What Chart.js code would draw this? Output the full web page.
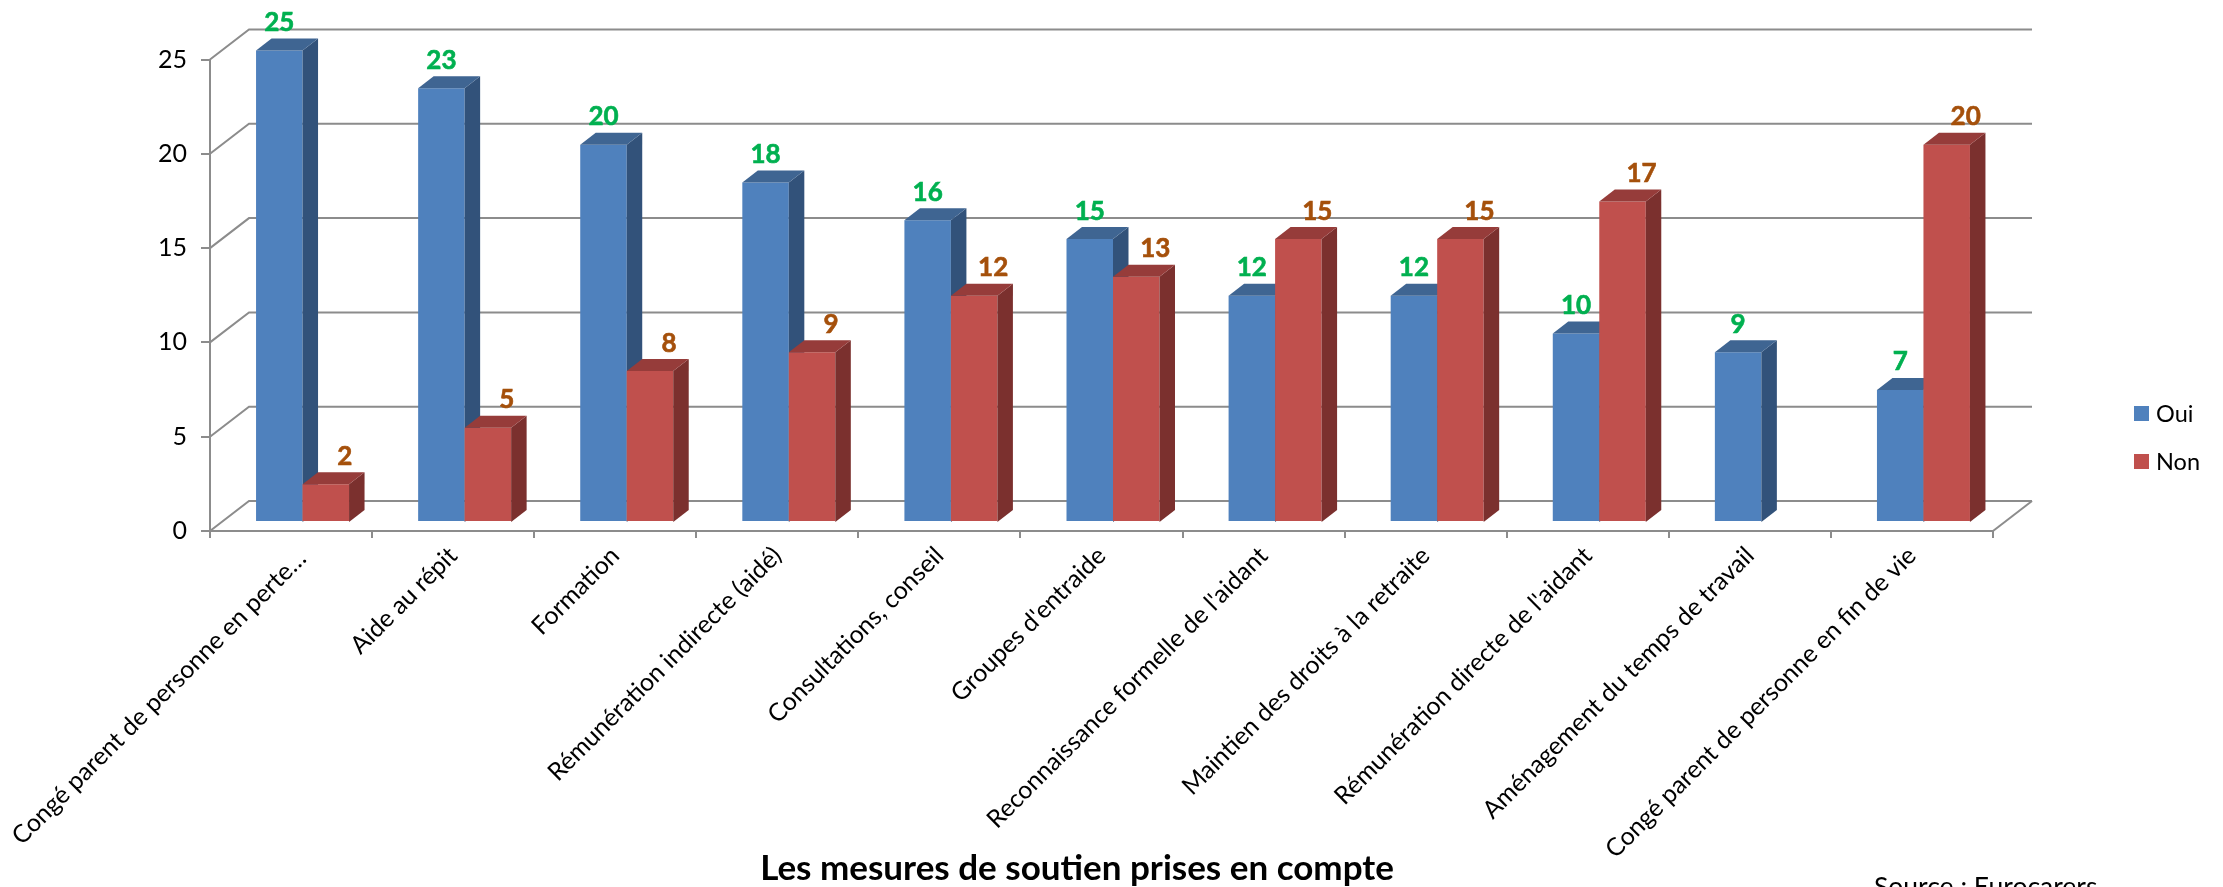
<!DOCTYPE html>
<html><head><meta charset="utf-8">
<style>html,body{margin:0;padding:0;background:#fff;overflow:hidden}#w{width:2223px;height:887px;position:relative}</style>
<script src="https://cdn.jsdelivr.net/npm/chart.js@4/dist/chart.umd.min.js"></script>
</head><body><div id="w"><canvas id="c" width="2223" height="887"></canvas></div>
<script>
const categories=["Congé parent de personne en perte…","Aide au répit","Formation","Rémunération indirecte (aidé)","Consultations, conseil","Groupes d'entraide","Reconnaissance formelle de l'aidant","Maintien des droits à la retraite","Rémunération directe de l'aidant","Aménagement du temps de travail","Congé parent de personne en fin de vie"];
const oui=[25,23,20,18,16,15,12,12,10,9,7];
const non=[2,5,8,9,12,13,15,15,17,null,20];
const yTicks=[0,5,10,15,20,25];
const chartTitle="Les mesures de soutien prises en compte";
const sourceText="Source : Eurocarers";
const FONT="Lato, Carlito, sans-serif";
const BLUE="#4F81BD",RED="#C0504D",GRID="#8C8C8C";
const faces={Oui:{top:"#3F6592",side:"#32527A",label:"#00B050",labelDx:0},Non:{top:"#963C3A",side:"#7B302E",label:"#A5500B",labelDx:19}};
const wall={dx:39,dy:-30},shift={dx:11.5,dy:-9},depth={dx:15.5,dy:-12};
function drawBars3D(ch,index){
 const {ctx}=ch;const ds=ch.data.datasets[index];const f=faces[ds.label];const meta=ch.getDatasetMeta(index);
 const base=ch.scales.y.getPixelForValue(0);
 ctx.save();ctx.translate(shift.dx,shift.dy);
 meta.controller.draw();
 meta.data.forEach((b,i)=>{if(ds.data[i]==null)return;const w=b.width/2,l=b.x-w,r=b.x+w,t=b.y;
  ctx.fillStyle=f.side;ctx.beginPath();ctx.moveTo(r,t);ctx.lineTo(r+depth.dx,t+depth.dy);ctx.lineTo(r+depth.dx,base+depth.dy);ctx.lineTo(r,base);ctx.closePath();ctx.fill();
  ctx.fillStyle=f.top;ctx.beginPath();ctx.moveTo(l,t);ctx.lineTo(l+depth.dx,t+depth.dy);ctx.lineTo(r+depth.dx,t+depth.dy);ctx.lineTo(r,t);ctx.closePath();ctx.fill();
 });ctx.restore();
}
const plugin={id:"threeD",
 beforeDraw(ch){const items=ch.scales.x.getLabelItems(ch.chartArea);if(items[0]){const t=items[0].options.translation;t[0]+=11;t[1]+=3;}},
 beforeDatasetsDraw(ch){const {ctx,chartArea:a,scales:{y}}=ch;ctx.save();ctx.strokeStyle=GRID;ctx.lineWidth=2;
  yTicks.forEach(v=>{const p=y.getPixelForValue(v);ctx.beginPath();ctx.moveTo(a.left,p);ctx.lineTo(a.left+wall.dx,p+wall.dy);ctx.lineTo(a.right+wall.dx,p+wall.dy);ctx.stroke();});
  const p0=y.getPixelForValue(0);ctx.beginPath();ctx.moveTo(a.right,p0);ctx.lineTo(a.right+wall.dx,p0+wall.dy);ctx.stroke();ctx.restore();
  // draw left series first so the right series overlaps it, as in the reference
  drawBars3D(ch,0);drawBars3D(ch,1);
  return false;},
 afterDraw(ch){const {ctx}=ch;ctx.save();
  ctx.font="bold 26px "+FONT;ctx.textAlign="center";ctx.textBaseline="alphabetic";ctx.lineWidth=0.6;
  ch.data.datasets.forEach((ds,k)=>{const f=faces[ds.label];ctx.fillStyle=f.label;ctx.strokeStyle=f.label;ch.getDatasetMeta(k).data.forEach((b,i)=>{if(ds.data[i]==null)return;const tx=b.x+shift.dx+f.labelDx,ty=b.y+shift.dy-19.5;ctx.fillText(String(ds.data[i]),tx,ty);ctx.strokeText(String(ds.data[i]),tx,ty);});});
  ctx.font="23.5px "+FONT;ctx.textAlign="left";ctx.textBaseline="middle";
  ch.data.datasets.forEach((ds,k)=>{const y0=406+48*k;ctx.fillStyle=ds.backgroundColor;ctx.fillRect(2134,y0,15,15);ctx.fillStyle="#000";ctx.fillText(ds.label,2156,y0+8);});
  ctx.textBaseline="alphabetic";ctx.textAlign="center";ctx.fillStyle="#000";
  ctx.font="bold 35px "+FONT;ctx.fillText(chartTitle,1077,880);
  ctx.font="26.5px "+FONT;ctx.textAlign="left";ctx.fillText(sourceText,1874,896);
  ctx.restore();}
};
const chart=new Chart(document.getElementById("c"),{type:"bar",
 data:{labels:categories,datasets:[
  {label:"Oui",data:oui,backgroundColor:BLUE,borderWidth:0},
  {label:"Non",data:non,backgroundColor:RED,borderWidth:0}]},
 options:{responsive:false,animation:false,
  layout:{padding:{top:59.5,right:230,left:0,bottom:0}},
  datasets:{bar:{categoryPercentage:93/162.1,barPercentage:1}},
  plugins:{legend:{display:false},title:{display:false},tooltip:{enabled:false}},
  scales:{
   x:{afterFit(s){s.height=356;s.paddingLeft=0;s.paddingRight=0;},grid:{drawOnChartArea:false,color:GRID,lineWidth:2,tickLength:7,offset:true},border:{color:GRID,width:2},
      ticks:{autoSkip:false,maxRotation:45,minRotation:45,color:"#000",font:{family:FONT,size:24.8},padding:3}},
   y:{min:0,max:25,afterFit(s){s.width=210;},afterBuildTicks(s){s.ticks=yTicks.map(v=>({value:v}));},
      grid:{drawOnChartArea:false,color:GRID,lineWidth:2,tickLength:9},border:{color:GRID,width:2},
      ticks:{color:"#000",padding:14,font:{family:FONT,size:25}}}
  }},
 plugins:[plugin]});
</script></body></html>
